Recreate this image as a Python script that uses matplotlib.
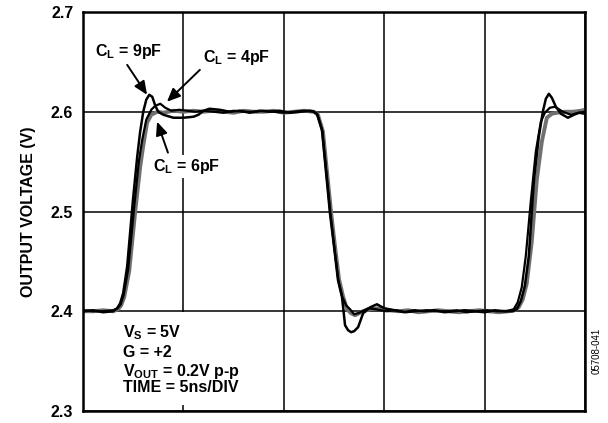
import matplotlib
matplotlib.use("Agg")
import matplotlib.pyplot as plt
from matplotlib.patches import Rectangle

plt.rcParams['font.family'] = ['Liberation Sans', 'DejaVu Sans']
plt.rcParams['font.weight'] = 'bold'
plt.rcParams['mathtext.fontset'] = 'custom'
plt.rcParams['mathtext.rm'] = 'Liberation Sans:bold'
plt.rcParams['mathtext.bf'] = 'Liberation Sans:bold'
plt.rcParams['mathtext.it'] = 'Liberation Sans:bold'
plt.rcParams['mathtext.sf'] = 'Liberation Sans:bold'
plt.rcParams['mathtext.default'] = 'bf'

# time in ns, voltage in V
t_9pf = [0.0, 0.5, 1.0, 1.5, 1.7, 1.85, 2.0, 2.2, 2.49, 2.7, 2.84, 3.0, 3.15, 3.3, 3.45,
         3.6, 3.75, 4.0, 4.5, 5.0, 5.5, 5.75, 6.0, 6.3, 6.8, 7.3, 7.8, 8.3, 8.8, 9.3,
         9.8, 10.3, 10.8, 11.3, 11.5, 11.65, 11.9, 12.1, 12.3, 12.5, 12.7, 12.9, 13.05,
         13.2, 13.35, 13.5, 13.7, 13.95, 14.3, 14.64, 15.0, 15.5, 16.0, 16.5, 17.0,
         17.5, 18.0, 18.5, 19.0, 19.5, 20.0, 20.5, 21.0, 21.4, 21.6, 21.8, 22.0, 22.2,
         22.46, 22.7, 22.9, 23.05, 23.2, 23.35, 23.55, 23.8, 24.15, 24.45, 24.7, 25.0]
v_9pf = [2.400, 2.401, 2.399, 2.400, 2.403, 2.408, 2.418, 2.445, 2.512, 2.555, 2.579,
         2.600, 2.612, 2.617, 2.615, 2.606, 2.600, 2.597, 2.594, 2.594, 2.595, 2.597,
         2.601, 2.603, 2.602, 2.600, 2.601, 2.599, 2.601, 2.600, 2.601, 2.599, 2.600,
         2.601, 2.600, 2.598, 2.582, 2.540, 2.498, 2.465, 2.431, 2.414, 2.386, 2.381,
         2.379, 2.380, 2.384, 2.398, 2.404, 2.407, 2.403, 2.401, 2.399, 2.401, 2.400,
         2.401, 2.399, 2.400, 2.401, 2.400, 2.399, 2.401, 2.400, 2.400, 2.402, 2.410,
         2.425, 2.455, 2.532, 2.575, 2.600, 2.613, 2.618, 2.614, 2.605, 2.598, 2.594,
         2.597, 2.599, 2.598]

t_6pf = [0.0, 0.5, 1.0, 1.5, 1.75, 1.9, 2.05, 2.3, 2.6, 2.85, 3.0, 3.19, 3.4, 3.7, 4.0,
         4.5, 5.0, 5.5, 6.0, 6.5, 7.0, 7.5, 8.0, 8.5, 9.0, 9.5, 10.0, 10.5, 11.0, 11.5,
         11.7, 11.95, 12.15, 12.35, 12.55, 12.75, 12.95, 13.15, 13.35, 13.55, 13.75,
         13.95, 14.3, 14.7, 15.2, 15.7, 16.2, 16.7, 17.2, 17.7, 18.2, 18.7, 19.2, 19.7,
         20.2, 20.7, 21.2, 21.5, 21.7, 21.9, 22.1, 22.35, 22.6, 22.85, 23.1, 23.35,
         23.6, 24.0, 24.4, 24.8, 25.0]
v_6pf = [2.400, 2.400, 2.401, 2.400, 2.402, 2.406, 2.414, 2.440, 2.500, 2.545, 2.566,
         2.589, 2.597, 2.600, 2.599, 2.601, 2.600, 2.601, 2.600, 2.601, 2.600, 2.599,
         2.601, 2.600, 2.600, 2.601, 2.599, 2.600, 2.601, 2.600, 2.597, 2.580, 2.540,
         2.500, 2.465, 2.432, 2.415, 2.402, 2.398, 2.396, 2.398, 2.400, 2.402, 2.403,
         2.401, 2.400, 2.401, 2.399, 2.400, 2.401, 2.400, 2.399, 2.400, 2.401, 2.400,
         2.399, 2.400, 2.401, 2.404, 2.412, 2.428, 2.470, 2.532, 2.570, 2.594, 2.598,
         2.599, 2.600, 2.600, 2.601, 2.602]

t_4pf = [0.0, 0.5, 1.0, 1.5, 1.72, 1.88, 2.02, 2.25, 2.55, 2.78, 2.95, 3.15, 3.4, 3.6,
         3.85, 4.1, 4.4, 4.8, 5.2, 5.6, 6.0, 6.5, 7.0, 7.5, 8.0, 8.5, 9.0, 9.5, 10.0,
         10.5, 11.0, 11.5, 11.68, 11.92, 12.12, 12.32, 12.52, 12.72, 12.92, 13.1, 13.3,
         13.5, 13.7, 13.9, 14.2, 14.6, 15.1, 15.6, 16.1, 16.6, 17.1, 17.6, 18.1, 18.6,
         19.1, 19.6, 20.1, 20.6, 21.1, 21.45, 21.65, 21.85, 22.05, 22.3, 22.55, 22.8,
         23.0, 23.25, 23.5, 23.9, 24.3, 24.7, 25.0]
v_4pf = [2.401, 2.400, 2.400, 2.401, 2.403, 2.407, 2.416, 2.442, 2.505, 2.550, 2.572,
         2.592, 2.602, 2.606, 2.608, 2.604, 2.601, 2.602, 2.601, 2.600, 2.601, 2.600,
         2.599, 2.601, 2.600, 2.600, 2.601, 2.600, 2.599, 2.600, 2.601, 2.600, 2.597,
         2.581, 2.540, 2.499, 2.464, 2.431, 2.414, 2.406, 2.402, 2.397, 2.398, 2.400,
         2.403, 2.402, 2.400, 2.401, 2.399, 2.400, 2.401, 2.400, 2.400, 2.401, 2.399,
         2.400, 2.401, 2.400, 2.400, 2.402, 2.409, 2.424, 2.455, 2.510, 2.560, 2.590,
         2.599, 2.604, 2.605, 2.600, 2.597, 2.599, 2.600]

y_ticks = [2.3, 2.4, 2.5, 2.6, 2.7]
x_grid = [0, 5, 10, 15, 20, 25]

fs = 11.5

fig = plt.figure(figsize=(6.08, 4.23), dpi=100)
ax = fig.add_axes([83/608, 12/423, 502/608, 399/423])

ax.plot(t_9pf, v_9pf, color='black', linewidth=1.8, zorder=3)
ax.plot(t_6pf, v_6pf, color='#707070', linewidth=2.8, zorder=2)
ax.plot(t_4pf, v_4pf, color='black', linewidth=1.6, zorder=3)

ax.set_xlim(0, 25)
ax.set_ylim(2.3, 2.7)
ax.set_xticks(x_grid)
ax.set_xticklabels([])
ax.set_yticks(y_ticks)
ax.set_yticklabels(['%.1f' % v for v in y_ticks], fontsize=fs, fontweight='bold')
ax.tick_params(length=0, pad=7)
ax.grid(True, color='black', linewidth=1.1)
for s in ax.spines.values():
    s.set_linewidth(1.8)
ax.set_ylabel('OUTPUT VOLTAGE (V)', fontsize=fs, fontweight='bold', labelpad=11)

arrow = dict(arrowstyle='-|>,head_length=0.8,head_width=0.35', color='black',
             linewidth=1.4, shrinkA=0, shrinkB=0)
ax.annotate('', xy=(3.19, 2.617), xytext=(2.2, 2.647), arrowprops=arrow)
ax.text(2.25, 2.660, 'C$_L$ = 9pF', fontsize=fs, fontweight='bold', ha='center', va='center')
ax.annotate('', xy=(4.18, 2.610), xytext=(5.82, 2.642), arrowprops=arrow)
ax.text(7.65, 2.654, 'C$_L$ = 4pF', fontsize=fs, fontweight='bold', ha='center', va='center')
ax.annotate('', xy=(3.69, 2.590), xytext=(4.23, 2.559), arrowprops=arrow)
ax.text(5.15, 2.545, 'C$_L$ = 6pF', fontsize=fs, fontweight='bold', ha='center', va='center',
        bbox=dict(facecolor='white', edgecolor='none', pad=1.5), zorder=4)

# white patch behind the conditions block hides the grid line
ax.add_patch(Rectangle((0.075, 0.015), 0.26, 0.232, transform=ax.transAxes,
                       facecolor='white', edgecolor='none', zorder=1.8))
notes = ['V$_S$ = 5V', 'G = +2', 'V$_{OUT}$ = 0.2V p-p', 'TIME = 5ns/DIV']
note_y = [0.185, 0.135, 0.088, 0.048]
for txt, yy in zip(notes, note_y):
    ax.text(0.080, yy, txt, transform=ax.transAxes, fontsize=fs, fontweight='bold',
            ha='left', va='baseline', zorder=4)

fig.text(0.982, 0.17, '05708-041', rotation=90, fontsize=7, fontweight='normal',
         ha='center', va='center')

fig.savefig('out.png', dpi=100)
